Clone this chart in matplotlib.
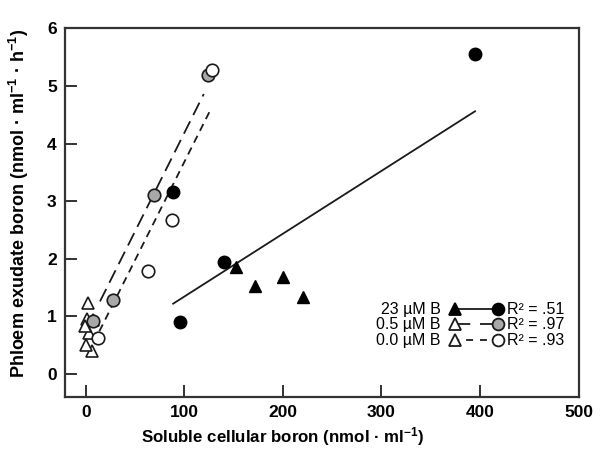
import matplotlib
matplotlib.use("Agg")
import matplotlib.pyplot as plt
from matplotlib.lines import Line2D

plt.rcParams['font.family'] = ['Liberation Sans', 'DejaVu Sans']
plt.rcParams['mathtext.fontset'] = 'custom'
plt.rcParams['mathtext.rm'] = 'Liberation Sans'
plt.rcParams['mathtext.bf'] = 'Liberation Sans:bold'
plt.rcParams['mathtext.it'] = 'Liberation Sans:italic'
plt.rcParams['lines.scale_dashes'] = False

# ---- data ----
b23_circ_x = [88.7, 95.5, 140.4, 395]
b23_circ_y = [3.15, 0.91, 1.95, 5.56]
b23_tri_x = [152.9, 171.4, 199.8, 220]
b23_tri_y = [1.86, 1.52, 1.69, 1.34]

b05_circ_x = [7, 27.3, 69.2, 124]
b05_circ_y = [0.92, 1.28, 3.11, 5.19]
b05_tri_x = [2.7, 7, 3.7, 6]
b05_tri_y = [1.23, 0.94, 0.71, 0.39]

b00_circ_x = [12.8, 62.8, 87.1, 128.6]
b00_circ_y = [0.63, 1.78, 2.68, 5.28]
b00_tri_x = [1, -0.7, 0.3]
b00_tri_y = [0.95, 0.83, 0.51]

fit23_x = [88.7, 395]
fit23_y = [1.22, 4.56]
fit05_x = [14.5, 119.8]
fit05_y = [1.26, 4.86]
fit00_x = [13.8, 127.6]
fit00_y = [0.74, 4.62]

legend_labels = ['23 µM B', '0.5 µM B', '0.0 µM B']
legend_r2 = ['.51', '.97', '.93']

xticks = [0, 100, 200, 300, 400, 500]
yticks = [0, 1, 2, 3, 4, 5, 6]

GRAY = '#a8a8a8'
LC = '#1a1a1a'
LONG = (0, (10, 5))
SHORT = (0, (5.5, 4))

fig = plt.figure(figsize=(6.01, 4.53), dpi=100)
ax = fig.add_axes([0.1082, 0.1236, 0.8544, 0.8139])

ms = 9
# regression lines
ax.plot(fit23_x, fit23_y, color=LC, lw=1.3, ls='-', zorder=2)
ax.plot(fit05_x, fit05_y, color=LC, lw=1.3, ls=LONG, zorder=2)
ax.plot(fit00_x, fit00_y, color=LC, lw=1.3, ls=SHORT, zorder=2)

# points
ax.plot(b23_circ_x, b23_circ_y, 'o', ms=ms, mfc='black', mec='black', zorder=3)
ax.plot(b23_tri_x, b23_tri_y, '^', ms=ms, mfc='black', mec='black', zorder=3)
ax.plot(b05_tri_x, b05_tri_y, '^', ms=ms, mfc='white', mec=LC, mew=1.2, zorder=3)
ax.plot(b00_tri_x, b00_tri_y, '^', ms=ms, mfc='white', mec=LC, mew=1.2, zorder=3)
ax.plot(b05_circ_x, b05_circ_y, 'o', ms=ms, mfc=GRAY, mec=LC, mew=1.2, zorder=4)
ax.plot(b00_circ_x, b00_circ_y, 'o', ms=ms, mfc='white', mec=LC, mew=1.2, zorder=4)

ax.set_xlim(-21, 500)
ax.set_ylim(-0.4, 6)
ax.set_xticks(xticks)
ax.set_yticks(yticks)
ax.tick_params(direction='in', length=8.5, width=1.3, color='#222222', pad=6,
               labelsize=12.5)
for lab in ax.get_xticklabels() + ax.get_yticklabels():
    lab.set_fontweight('bold')
for s in ax.spines.values():
    s.set_linewidth(1.6)
    s.set_color('#333333')

ax.set_xlabel(r'Soluble cellular boron (nmol · ml$^{\mathbf{-1}}$)',
              fontsize=12.2, fontweight='bold')
ax.xaxis.set_label_coords(0.4245, -0.075)
ax.set_ylabel(r'Phloem exudate boron (nmol · ml$^{\mathbf{-1}}$ · h$^{\mathbf{-1}}$)',
              fontsize=13, fontweight='bold')
ax.yaxis.set_label_coords(-0.066, 0.526)

# manual legend
rows_y = [0.2387, 0.197, 0.1546]
styles = [('-', 'black', 'black', 'black'),
          ((0, (11, 7)), 'white', GRAY, LC),
          ((2, (5, 5)), 'white', 'white', LC)]
tr = ax.transAxes
for yy, lab, r2, (ls, tri_fc, circ_fc, ec) in zip(rows_y, legend_labels, legend_r2, styles):
    ax.text(0.7316, yy, lab, transform=tr, ha='right', va='center', fontsize=11.5)
    ax.add_line(Line2D([0.7595, 0.8438], [yy, yy], transform=tr, color=LC, lw=1.3, ls=ls, zorder=5))
    ax.add_line(Line2D([0.7595], [yy], transform=tr, marker='^', ms=8.5, mfc=tri_fc,
                       mec=ec, mew=1.3, ls='none', zorder=6))
    ax.add_line(Line2D([0.8438], [yy], transform=tr, marker='o', ms=8.5, mfc=circ_fc,
                       mec=ec, mew=1.3, ls='none', zorder=6))
    ax.text(0.860, yy, 'R² = ' + r2, transform=tr, ha='left', va='center', fontsize=11.5)

fig.savefig('out.png', dpi=100)
